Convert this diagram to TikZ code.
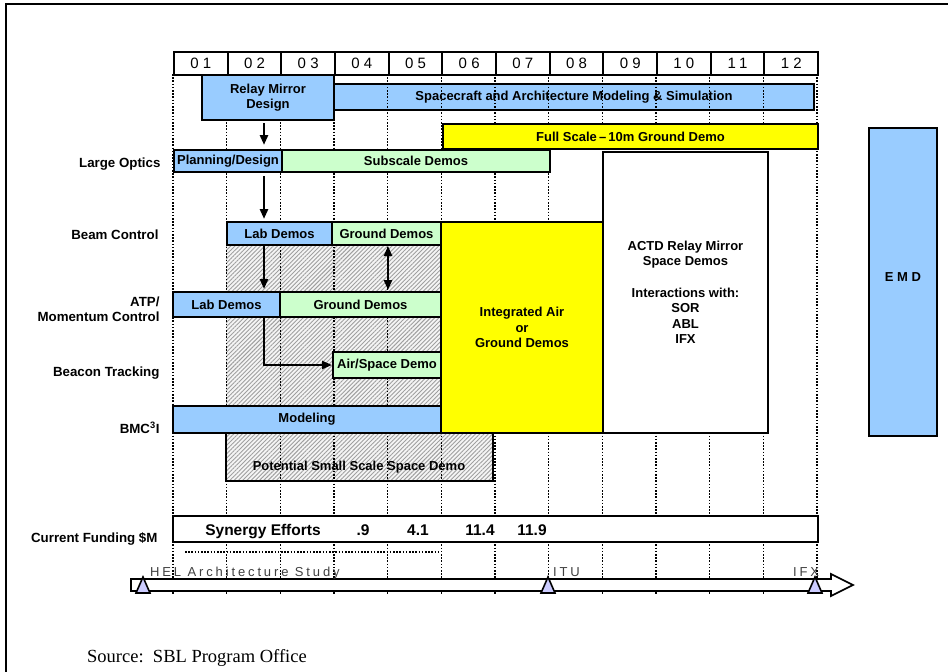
\documentclass[tikz,border=0pt]{standalone}
\usepackage{fontspec}
\setmainfont{Liberation Sans}
\newfontfamily\yearfont[LetterSpace=28]{Liberation Sans}
\newfontfamily\studyfont[LetterSpace=22]{Liberation Sans}
\newfontfamily\sourcefont{Liberation Serif}
\usetikzlibrary{arrows.meta,patterns.meta}
\definecolor{barblue}{HTML}{99CCFF}
\definecolor{bargreen}{HTML}{CCFFCC}
\definecolor{baryellow}{HTML}{FFFF00}
\definecolor{mstone}{HTML}{CCCCFF}
\tikzset{bar/.style={draw,line width=2pt,anchor=north west,inner sep=0pt,align=center,
    font=\bfseries\fontsize{13}{15.5}\selectfont}}

\begin{document}
\begin{tikzpicture}[x=1pt,y=-1pt,
    bluebar/.style={bar,fill=barblue},
    greenbar/.style={bar,fill=bargreen},
    yellowbar/.style={bar,fill=baryellow},
    whitebar/.style={bar,fill=white},
    rowlabel/.style={anchor=east,align=right,font=\bfseries\fontsize{13.3}{15}\selectfont},
    yeargrid/.style={line width=1.4pt,dash pattern=on 1.6pt off 1.6pt},
    flow/.style={line width=2.6pt,-{Triangle[length=10pt,width=8pt]}},
    milestone/.style={fill=mstone,draw,line width=1.6pt},
    marker/.style={anchor=base west,inner sep=0pt,text=black!75,font=\studyfont\fontsize{13}{13}\selectfont}]
    \useasboundingbox (0,0) rectangle (948,672);
    \draw[line width=2pt] (6,690) -- (6,4) -- (960,4);

    % this bar lies under the year grid
    \node[bluebar,minimum width=480pt,minimum height=26pt] (sim) at (333,83) {Spacecraft and Architecture Modeling \& Simulation};

    % hatched area
    \fill[gray!8] (226,244) -- (440,244) -- (440,432) -- (493,432) -- (493,481) -- (226,481) -- cycle;
    \fill[pattern={Lines[angle=45,distance=3pt,line width=0.9pt]},pattern color=gray!75]
        (226,244) -- (440,244) -- (440,432) -- (493,432) -- (493,481) -- (226,481) -- cycle;
    \draw[line width=2pt] (226,432) -- (226,481) -- (493,481) -- (493,432);
    \node[font=\bfseries\fontsize{13}{15}\selectfont] (small) at (359,467) {Potential Small Scale Space Demo};

    \foreach \i in {0,...,12}
        \draw[yeargrid] (173+53.67*\i,74) -- (173+53.67*\i,594);

    \foreach \n [count=\i from 0] in {01,02,03,04,05,06,07,08,09,10,11,12}
        \node[bar,fill=white,font=\yearfont\fontsize{15}{15}\selectfont,minimum width=53.67pt,minimum height=23pt] (y\n) at (173+53.67*\i,51) {\n};

    \node[bluebar,minimum width=132pt,minimum height=45pt] (relay) at (201,74) {Relay Mirror\\Design};
    \node[yellowbar,minimum width=375pt,minimum height=25pt] (full) at (442,123) {Full Scale\,--\,10m Ground Demo};
    \node[bluebar,minimum width=108pt,minimum height=22pt] (plan) at (173,149) {Planning/Design};
    \node[greenbar,minimum width=268pt,minimum height=22pt] (sub) at (281,149) {Subscale Demos};
    \node[whitebar,minimum width=165pt,minimum height=281pt] (actd) at (602,151)
        {ACTD Relay Mirror\\Space Demos\\[16pt]Interactions with:\\SOR\\ABL\\IFX};
    \node[yellowbar,minimum width=162pt,minimum height=211pt] (integ) at (440,221) {Integrated Air\\or\\Ground Demos};
    \node[bluebar,minimum width=105pt,minimum height=23pt] (beamlab) at (226,221) {Lab Demos};
    \node[greenbar,minimum width=109pt,minimum height=23pt] (beamground) at (331,221) {Ground Demos};
    \node[bluebar,minimum width=107pt,minimum height=25pt] (atplab) at (172,291) {Lab Demos};
    \node[greenbar,minimum width=161pt,minimum height=25pt] (atpground) at (279,291) {Ground Demos};
    \node[greenbar,minimum width=108pt,minimum height=26pt] (air) at (332,351) {Air/Space Demo};
    \node[bluebar,minimum width=268pt,minimum height=27pt] (model) at (172,405) {Modeling};
    \node[bluebar,minimum width=68pt,minimum height=308pt] (emd) at (868,127) {\raisebox{9pt}{E M D}};

    % row labels
    \node[rowlabel] (optics) at (164,164) {Large Optics};
    \node[rowlabel] (beam) at (162,235) {Beam Control};
    \node[rowlabel] (atp) at (163,309) {ATP/\\Momentum Control};
    \node[rowlabel] (beacon) at (163,373) {Beacon Tracking};
    \node[rowlabel] (bmc) at (163,428) {BMC\textsuperscript{3}I};
    \node[rowlabel] (funding) at (161,539) {Current Funding \$M};

    % funding
    \node[whitebar,minimum width=645pt,minimum height=26pt] (fund) at (172,515) {};
    \node[anchor=base,inner sep=0pt,font=\bfseries\fontsize{15.5}{15}\selectfont] (synergy) at (263,535) {Synergy Efforts};
    \foreach \v/\x in {.9/363,4.1/418,11.4/480,11.9/532}
        \node[anchor=base,inner sep=0pt,font=\bfseries\fontsize{15.5}{15}\selectfont] (f\x) at (\x,535) {\v};
    \draw[yeargrid] (185,552) -- (439,552);

    % timeline
    \draw[line width=1.6pt,fill=white] (131,579) -- (831,579) -- (831,574) -- (853,585) -- (831,596) -- (831,591) -- (131,591) -- cycle;
    \foreach \x in {143,548,815}
        \draw[milestone] (\x-7,593) -- (\x,577) -- (\x+7,593) -- cycle;
    \node[marker] (hel) at (150,576) {HEL Architecture Study};
    \node[marker] (itu) at (553,576) {ITU};
    \node[marker] (ifx) at (793,576) {IFX};

    \node[anchor=base west,inner sep=0pt,font=\sourcefont\fontsize{18.5}{20}\selectfont] (source) at (87,662) {Source:\ \ SBL Program Office};

    % links
    \coordinate (ax) at (264,0);
    \coordinate (bx) at (388,0);
    \draw[flow,shorten <=2pt,shorten >=4pt] (relay.south -| ax) -- (plan.north -| ax);
    \draw[flow,shorten <=3pt,shorten >=2pt] (plan.south -| ax) -- (beamlab.north -| ax);
    \draw[flow,shorten >=2pt] (beamlab.south -| ax) -- (atplab.north -| ax);
    \draw[flow,{Triangle[length=10pt,width=8pt]}-{Triangle[length=10pt,width=8pt]},shorten >=1pt] (beamground.south -| bx) -- (atpground.north -| bx);
    \draw[flow] (atplab.south -| ax) |- (air.west);
\end{tikzpicture}
\end{document}
